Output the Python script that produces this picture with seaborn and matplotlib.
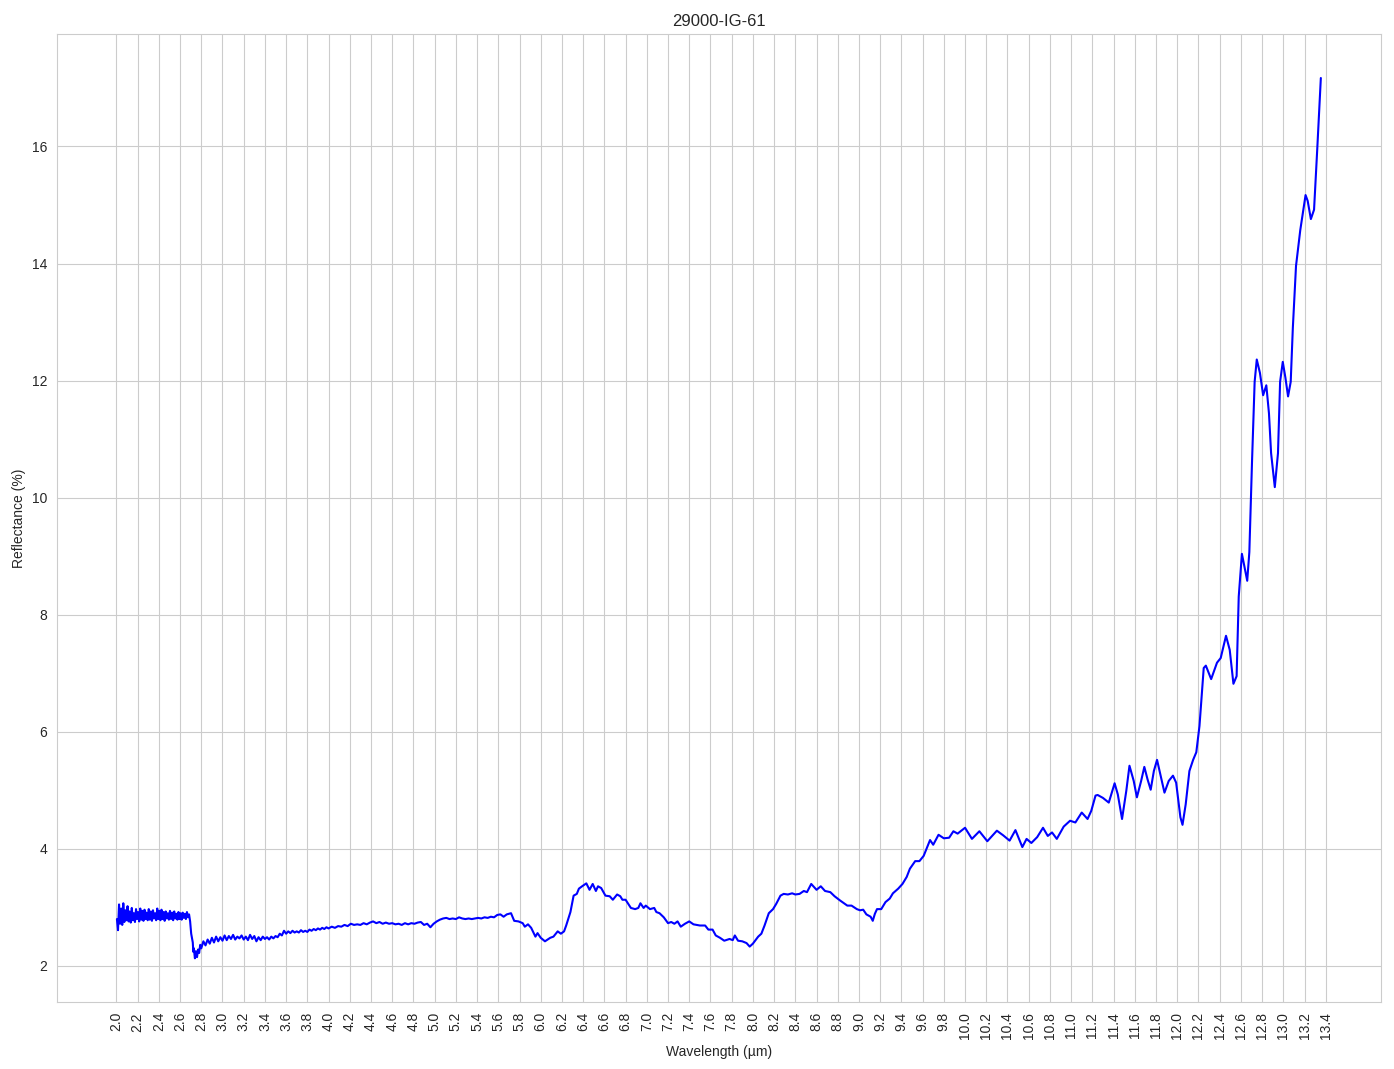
import numpy as np
import pandas as pd
import matplotlib
matplotlib.use("Agg")
import matplotlib.pyplot as plt
import seaborn as sns

# ---- data ----
wl_noisy = [round(2.005 + 0.01 * i, 3) for i in range(71)]
refl_noisy = [
    2.80, 2.61, 3.05, 2.72, 2.98, 2.70, 3.07, 2.75, 2.95, 2.78,
    3.02, 2.76, 2.93, 2.74, 2.99, 2.78, 2.90, 2.75, 2.97, 2.80,
    2.92, 2.76, 2.98, 2.79, 2.94, 2.77, 2.96, 2.80, 2.91, 2.78,
    2.97, 2.79, 2.93, 2.77, 2.95, 2.81, 2.90, 2.78, 2.98, 2.80,
    2.94, 2.78, 2.96, 2.80, 2.92, 2.77, 2.93, 2.81, 2.90, 2.79,
    2.94, 2.80, 2.91, 2.78, 2.93, 2.81, 2.89, 2.79, 2.92, 2.80,
    2.90, 2.79, 2.91, 2.82, 2.89, 2.80, 2.92, 2.83, 2.88, 2.76,
    2.55,
]

wl_mid = [2.72, 2.725, 2.73, 2.74, 2.75, 2.76, 2.77, 2.78, 2.79, 2.80,
          2.82, 2.84, 2.86, 2.88, 2.90, 2.92, 2.94, 2.96, 2.98, 3.00,
          3.02, 3.04, 3.06, 3.08, 3.10, 3.12, 3.14, 3.16, 3.18, 3.20,
          3.22, 3.24, 3.26, 3.28, 3.30, 3.32, 3.34, 3.36, 3.38, 3.40,
          3.42, 3.44, 3.46, 3.48, 3.50, 3.52, 3.54, 3.56, 3.58, 3.60,
          3.62, 3.64, 3.66, 3.68, 3.70, 3.72, 3.74, 3.76, 3.78, 3.80,
          3.82, 3.84, 3.86, 3.88, 3.90, 3.92, 3.94, 3.96, 3.98, 4.00,
          4.03, 4.06, 4.09, 4.12, 4.15, 4.18, 4.21, 4.24, 4.27, 4.30,
          4.33, 4.36, 4.39, 4.42, 4.45, 4.48, 4.51, 4.54, 4.57, 4.60,
          4.63, 4.66, 4.69, 4.72, 4.75, 4.78, 4.81, 4.84, 4.87, 4.90,
          4.93, 4.96, 4.99, 5.02, 5.05, 5.08, 5.11, 5.14, 5.17, 5.20,
          5.23, 5.26, 5.29, 5.32, 5.35, 5.38, 5.41, 5.44, 5.47, 5.50,
          5.53, 5.56, 5.59, 5.62, 5.65, 5.68, 5.72, 5.75]
refl_mid = [2.40, 2.24, 2.30, 2.13, 2.25, 2.15, 2.28, 2.22, 2.36, 2.30,
            2.42, 2.35, 2.45, 2.38, 2.48, 2.40, 2.50, 2.42, 2.49, 2.43,
            2.52, 2.44, 2.51, 2.46, 2.53, 2.45, 2.50, 2.47, 2.52, 2.45,
            2.50, 2.44, 2.53, 2.46, 2.51, 2.42, 2.49, 2.44, 2.50, 2.46,
            2.49, 2.45, 2.50, 2.47, 2.51, 2.49, 2.55, 2.52, 2.60, 2.55,
            2.59, 2.56, 2.60, 2.57, 2.59, 2.57, 2.61, 2.58, 2.60, 2.58,
            2.62, 2.60, 2.63, 2.61, 2.64, 2.62, 2.65, 2.63, 2.66, 2.64,
            2.67, 2.65, 2.68, 2.67, 2.70, 2.68, 2.72, 2.70, 2.71, 2.70,
            2.73, 2.71, 2.74, 2.76, 2.73, 2.75, 2.72, 2.74, 2.72, 2.73,
            2.71, 2.72, 2.70, 2.73, 2.71, 2.73, 2.72, 2.74, 2.75, 2.70,
            2.72, 2.66, 2.72, 2.76, 2.79, 2.81, 2.82, 2.80, 2.81, 2.80,
            2.83, 2.81, 2.80, 2.81, 2.80, 2.81, 2.82, 2.81, 2.83, 2.82,
            2.84, 2.83, 2.87, 2.88, 2.84, 2.88, 2.90, 2.77]

wl_smooth = [5.79, 5.83, 5.85, 5.88, 5.91, 5.95, 5.97, 6.00, 6.04, 6.09,
             6.12, 6.16, 6.19, 6.22, 6.24, 6.28, 6.31, 6.34, 6.36, 6.39,
             6.43, 6.46, 6.49, 6.52, 6.54, 6.57, 6.61, 6.65, 6.68, 6.72,
             6.75, 6.77, 6.80, 6.85, 6.89, 6.92, 6.94, 6.97, 6.99, 7.03,
             7.07, 7.09, 7.12, 7.16, 7.20, 7.23, 7.26, 7.29, 7.32, 7.36,
             7.40, 7.44, 7.50, 7.55, 7.58, 7.62, 7.65, 7.69, 7.73, 7.78,
             7.81, 7.83, 7.86, 7.90, 7.94, 7.97, 8.00, 8.05, 8.08, 8.11,
             8.15, 8.19, 8.22, 8.26, 8.29, 8.33, 8.37, 8.40, 8.44, 8.48,
             8.51, 8.55, 8.60, 8.64, 8.68, 8.73, 8.77, 8.82, 8.89, 8.93,
             8.98, 9.01, 9.04, 9.07, 9.11, 9.13, 9.15, 9.17, 9.21, 9.25,
             9.29, 9.32, 9.37, 9.41, 9.45, 9.48, 9.53, 9.57, 9.61]
refl_smooth = [2.76, 2.73, 2.67, 2.71, 2.65, 2.50, 2.56, 2.48, 2.42, 2.48,
               2.50, 2.59, 2.55, 2.59, 2.69, 2.92, 3.20, 3.23, 3.32, 3.36,
               3.41, 3.30, 3.40, 3.28, 3.36, 3.33, 3.20, 3.19, 3.13, 3.22,
               3.19, 3.13, 3.13, 2.99, 2.97, 2.99, 3.07, 2.99, 3.03, 2.97,
               2.99, 2.92, 2.90, 2.83, 2.73, 2.75, 2.72, 2.76, 2.67, 2.72,
               2.76, 2.71, 2.69, 2.69, 2.62, 2.62, 2.52, 2.48, 2.43, 2.46,
               2.44, 2.52, 2.43, 2.42, 2.39, 2.33, 2.38, 2.50, 2.55, 2.69,
               2.90, 2.97, 3.06, 3.20, 3.23, 3.22, 3.24, 3.22, 3.23, 3.28,
               3.26, 3.40, 3.30, 3.36, 3.28, 3.26, 3.19, 3.12, 3.03, 3.03,
               2.97, 2.95, 2.96, 2.88, 2.84, 2.77, 2.89, 2.97, 2.97, 3.09,
               3.15, 3.24, 3.32, 3.40, 3.52, 3.66, 3.79, 3.79, 3.88]

wl_wavy = [9.67, 9.70, 9.75, 9.80, 9.85, 9.89, 9.93, 10.00, 10.065, 10.135,
           10.21, 10.30, 10.36, 10.42, 10.475, 10.54, 10.58, 10.625, 10.68, 10.735,
           10.78, 10.82, 10.865, 10.93, 10.99, 11.04, 11.10, 11.155, 11.19, 11.23,
           11.25, 11.30, 11.355, 11.41, 11.44, 11.48, 11.52, 11.55, 11.59, 11.62,
           11.66, 11.69, 11.72, 11.75, 11.78, 11.81, 11.84, 11.88, 11.92, 11.96,
           11.99, 12.03, 12.05, 12.08, 12.115, 12.15, 12.18, 12.21, 12.25, 12.27,
           12.32, 12.375, 12.41, 12.46, 12.495, 12.53, 12.56, 12.58, 12.61, 12.66,
           12.68, 12.705, 12.73, 12.75, 12.78, 12.81, 12.84, 12.865, 12.885, 12.92,
           12.95, 12.97, 12.995, 13.02, 13.045, 13.07, 13.09, 13.12, 13.16, 13.21,
           13.23, 13.26, 13.29, 13.32, 13.354]
refl_wavy = [4.15, 4.07, 4.24, 4.18, 4.19, 4.30, 4.26, 4.36, 4.17, 4.30,
             4.13, 4.31, 4.23, 4.14, 4.32, 4.03, 4.17, 4.10, 4.20, 4.36,
             4.22, 4.28, 4.17, 4.38, 4.48, 4.45, 4.62, 4.51, 4.65, 4.91,
             4.92, 4.87, 4.79, 5.12, 4.93, 4.51, 4.99, 5.42, 5.16, 4.88,
             5.16, 5.40, 5.19, 5.01, 5.33, 5.52, 5.28, 4.96, 5.16, 5.25,
             5.13, 4.54, 4.41, 4.76, 5.33, 5.52, 5.65, 6.10, 7.09, 7.13,
             6.90, 7.18, 7.26, 7.64, 7.40, 6.82, 6.95, 8.31, 9.04, 8.58,
             9.07, 10.60, 11.98, 12.36, 12.13, 11.75, 11.92, 11.44, 10.76, 10.18,
             10.76, 11.98, 12.32, 12.05, 11.73, 11.98, 12.90, 13.96, 14.57, 15.17,
             15.07, 14.76, 14.92, 15.95, 17.17]

tick_values = [round(2.0 + 0.2 * i, 1) for i in range(58)]
tick_labels = [f"{v:.1f}" for v in tick_values]

title = "29000-IG-61"
xlabel = "Wavelength (µm)"
ylabel = "Reflectance (%)"

df = pd.DataFrame({
    "wavelength": wl_noisy + wl_mid + wl_smooth + wl_wavy,
    "reflectance": refl_noisy + refl_mid + refl_smooth + refl_wavy,
})

sns.set_style("whitegrid")
plt.rcParams['font.family'] = ['Liberation Sans', 'DejaVu Sans']

fig, ax = plt.subplots(figsize=(13.94, 10.69), dpi=100)
sns.lineplot(data=df, x="wavelength", y="reflectance", color="blue",
             linewidth=1.5, estimator=None, sort=False, ax=ax)

ax.set_xticks(tick_values)
ax.set_xticklabels(tick_labels, rotation=90)
ax.set_title(title)
ax.set_xlabel(xlabel)
ax.set_ylabel(ylabel)

fig.subplots_adjust(left=0.0407, right=0.9907, top=0.9682, bottom=0.0624)
fig.savefig("out.png", dpi=100)
